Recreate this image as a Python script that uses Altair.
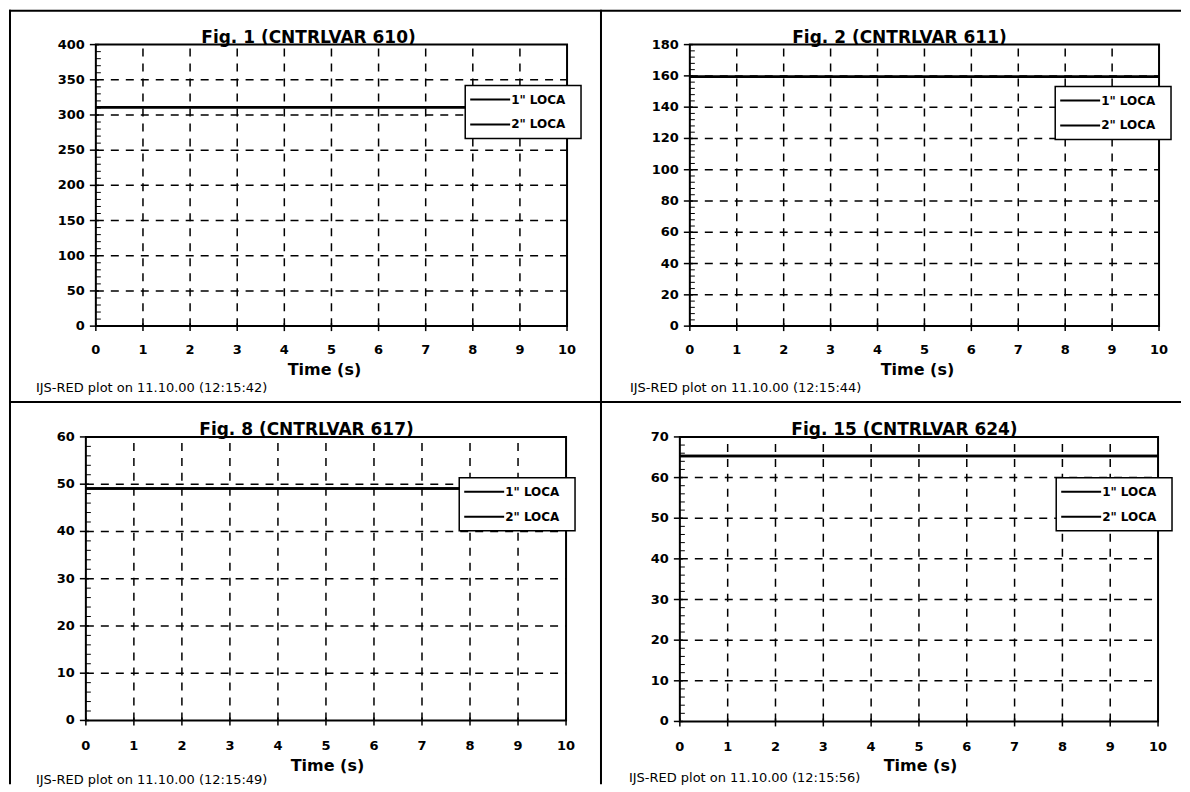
import altair as alt
import pandas as pd

# ---------------- data ----------------
time_s = [0, 1, 2, 3, 4, 5, 6, 7, 8, 9, 10]
series_names = ['1" LOCA', '2" LOCA']

titles = ["Fig. 1 (CNTRLVAR 610)", "Fig. 2 (CNTRLVAR 611)",
          "Fig. 8 (CNTRLVAR 617)", "Fig. 15 (CNTRLVAR 624)"]
footers = ["IJS-RED plot on 11.10.00 (12:15:42)", "IJS-RED plot on 11.10.00 (12:15:44)",
           "IJS-RED plot on 11.10.00 (12:15:49)", "IJS-RED plot on 11.10.00 (12:15:56)"]
x_title = "Time (s)"

x_ticks = [0, 1, 2, 3, 4, 5, 6, 7, 8, 9, 10]
y_ticks_1 = [0, 50, 100, 150, 200, 250, 300, 350, 400]
y_ticks_2 = [0, 20, 40, 60, 80, 100, 120, 140, 160, 180]
y_ticks_3 = [0, 10, 20, 30, 40, 50, 60]
y_ticks_4 = [0, 10, 20, 30, 40, 50, 60, 70]
y_minor_step = [10, 4, 2, 2]

fig1_loca1 = [311, 311, 311, 311, 311, 311, 311, 311, 311, 311, 311]
fig1_loca2 = [311, 311, 311, 311, 311, 311, 311, 311, 311, 311, 311]
fig2_loca1 = [159.5, 159.5, 159.5, 159.5, 159.5, 159.5, 159.5, 159.5, 159.5, 159.5, 159.5]
fig2_loca2 = [159.5, 159.5, 159.5, 159.5, 159.5, 159.5, 159.5, 159.5, 159.5, 159.5, 159.5]
fig8_loca1 = [49.1, 49.1, 49.1, 49.1, 49.1, 49.1, 49.1, 49.1, 49.1, 49.1, 49.1]
fig8_loca2 = [49.1, 49.1, 49.1, 49.1, 49.1, 49.1, 49.1, 49.1, 49.1, 49.1, 49.1]
fig15_loca1 = [65.3, 65.3, 65.3, 65.3, 65.3, 65.3, 65.3, 65.3, 65.3, 65.3, 65.3]
fig15_loca2 = [65.3, 65.3, 65.3, 65.3, 65.3, 65.3, 65.3, 65.3, 65.3, 65.3, 65.3]

# ---------------- layout (pixels, local to each panel) ----------------
geo = [
    dict(W=593, H=393, x0=87, x1=559, yt=35, yb=317, lx=457, ly=76, tx=300,
         ax=316, ay=361, fx=27, fy=379, fl=1, ft=1, ly_off=24),
    dict(W=581, H=393, x0=89, x1=559, yt=35, yb=317, lx=455, ly=77, tx=299,
         ax=317, ay=361, fx=29, fy=379, fl=0, ft=1, ly_off=24),
    dict(W=593, H=383, x0=77, x1=558, yt=35, yb=319, lx=451, ly=76, tx=298,
         ax=319, ay=365, fx=27, fy=379, fl=1, ft=0, ly_off=26),
    dict(W=581, H=383, x0=79, x1=558, yt=35, yb=320, lx=456, ly=76, tx=304,
         ax=320, ay=365, fx=28, fy=377, fl=0, ft=0, ly_off=26),
]

FONT = "DejaVu Sans"
DASH = [8, 7]


def one(**kw):
    return alt.Data(values=[dict(k=1, **kw)])


def panel(title, footer, yticks, minor_step, s1, s2, g):
    ymax = yticks[-1]
    xs = alt.Scale(domain=[0, 10], range=[g["x0"], g["x1"]], nice=False, zero=False)
    ys = alt.Scale(domain=[0, ymax], range=[g["yb"], g["yt"]], nice=False, zero=False)

    df = pd.DataFrame({
        "t": time_s + time_s,
        "v": s1 + s2,
        "s": [series_names[0]] * len(time_s) + [series_names[1]] * len(time_s),
    })
    xt = pd.DataFrame({"t": x_ticks})
    yt = pd.DataFrame({"v": yticks})

    # vertical dashed grid
    vgrid = alt.Chart(pd.DataFrame({"t": x_ticks[1:-1]})).mark_rule(
        color="black", strokeWidth=1.5, strokeDash=DASH
    ).encode(
        x=alt.X("t:Q", scale=xs, axis=None),
        y=alt.Y(datum=0, scale=ys, axis=None),
        y2=alt.datum(ymax),
    )
    # horizontal dashed grid
    hgrid = alt.Chart(pd.DataFrame({"v": yticks[1:-1]})).mark_rule(
        color="black", strokeWidth=1.5, strokeDash=DASH
    ).encode(
        y=alt.Y("v:Q", scale=ys, axis=None),
        x=alt.X(datum=0, scale=xs, axis=None),
        x2=alt.datum(10),
    )
    # minor inside ticks on the value axis
    minor_vals = [v for v in range(0, ymax + 1, minor_step) if v not in yticks]
    minor = alt.Chart(pd.DataFrame({"v": minor_vals})).mark_rule(
        color="black", strokeWidth=1
    ).encode(
        y=alt.Y("v:Q", scale=ys, axis=None),
        x=alt.value(g["x0"]),
        x2=alt.value(g["x0"] + 5),
    )
    # major ticks
    xtick = alt.Chart(xt).mark_rule(color="black", strokeWidth=1.5).encode(
        x=alt.X("t:Q", scale=xs, axis=None),
        y=alt.value(g["yb"] - 3),
        y2=alt.value(g["yb"] + 5),
    )
    ytick = alt.Chart(yt).mark_rule(color="black", strokeWidth=1.5).encode(
        y=alt.Y("v:Q", scale=ys, axis=None),
        x=alt.value(g["x0"] - 6),
        x2=alt.value(g["x0"] + 3),
    )
    # tick labels
    xlab = alt.Chart(xt).mark_text(
        align="center", baseline="middle", font=FONT, fontSize=13,
        fontWeight="bold", color="black"
    ).encode(
        x=alt.X("t:Q", scale=xs, axis=None),
        y=alt.value(g["yb"] + g["ly_off"]),
        text="t:Q",
    )
    ylab = alt.Chart(yt).mark_text(
        align="right", baseline="middle", font=FONT, fontSize=13,
        fontWeight="bold", color="black"
    ).encode(
        y=alt.Y("v:Q", scale=ys, axis=None),
        x=alt.value(g["x0"] - 11),
        text="v:Q",
    )
    xtitle = alt.Chart(one(s=x_title)).mark_text(
        align="center", baseline="middle", font=FONT, fontSize=16,
        fontWeight="bold", color="black"
    ).encode(x=alt.value(g["ax"]), y=alt.value(g["ay"]), text="s:N")

    # plot-area border
    border = alt.Chart(one()).mark_rect(
        fillOpacity=0, stroke="black", strokeWidth=2
    ).encode(
        x=alt.X(datum=0, scale=xs, axis=None),
        x2=alt.datum(10),
        y=alt.Y(datum=0, scale=ys, axis=None),
        y2=alt.datum(ymax),
    )
    # data lines
    lines = alt.Chart(df).mark_line(color="black", strokeWidth=2.5).encode(
        x=alt.X("t:Q", scale=xs, axis=None),
        y=alt.Y("v:Q", scale=ys, axis=None),
        detail="s:N",
    )

    # legend box
    lx, ly = g["lx"], g["ly"]
    leg_layers = [
        alt.Chart(one()).mark_rect(fill="white", stroke="black", strokeWidth=1.5).encode(
            x=alt.value(lx), x2=alt.value(lx + 116), y=alt.value(ly), y2=alt.value(ly + 53)
        )
    ]
    for i, name in enumerate(series_names):
        yy = ly + 14 + 25 * i
        leg_layers.append(
            alt.Chart(one()).mark_rule(color="black", strokeWidth=2).encode(
                x=alt.value(lx + 5), x2=alt.value(lx + 45), y=alt.value(yy)
            )
        )
        leg_layers.append(
            alt.Chart(one(s=name)).mark_text(
                align="left", baseline="middle", font=FONT, fontSize=12,
                fontWeight="bold", color="black"
            ).encode(x=alt.value(lx + 46), y=alt.value(yy), text="s:N")
        )

    title_mark = alt.Chart(one(s=title)).mark_text(
        align="center", baseline="alphabetic", font=FONT, fontSize=17,
        fontWeight="bold", color="black"
    ).encode(x=alt.value(g["tx"]), y=alt.value(g["yt"] - 2), text="s:N")

    footer_mark = alt.Chart(one(s=footer)).mark_text(
        align="left", baseline="middle", font=FONT, fontSize=13, color="black"
    ).encode(x=alt.value(g["fx"]), y=alt.value(g["fy"]), text="s:N")

    # panel frame (left and top edges of the chart area)
    frame_left = alt.Chart(one()).mark_rule(color="black", strokeWidth=2).encode(
        x=alt.value(g["fl"]), y=alt.value(0), y2=alt.value(g["H"])
    )
    frame_top = alt.Chart(one()).mark_rule(color="black", strokeWidth=2).encode(
        y=alt.value(g["ft"]), x=alt.value(0), x2=alt.value(g["W"])
    )

    return alt.layer(
        vgrid, hgrid, minor, border, xtick, ytick, lines, xlab, ylab, xtitle,
        *leg_layers, title_mark, footer_mark, frame_left, frame_top
    ).properties(width=g["W"], height=g["H"])


p1 = panel(titles[0], footers[0], y_ticks_1, y_minor_step[0], fig1_loca1, fig1_loca2, geo[0])
p2 = panel(titles[1], footers[1], y_ticks_2, y_minor_step[1], fig2_loca1, fig2_loca2, geo[1])
p3 = panel(titles[2], footers[2], y_ticks_3, y_minor_step[2], fig8_loca1, fig8_loca2, geo[2])
p4 = panel(titles[3], footers[3], y_ticks_4, y_minor_step[3], fig15_loca1, fig15_loca2, geo[3])

chart = alt.concat(
    p1, p2, p3, p4, columns=2, spacing=0, bounds="flush"
).properties(padding=0, background="white").configure_view(stroke=None)

chart.save("out.html", embed_options={"renderer": "svg", "actions": False})
